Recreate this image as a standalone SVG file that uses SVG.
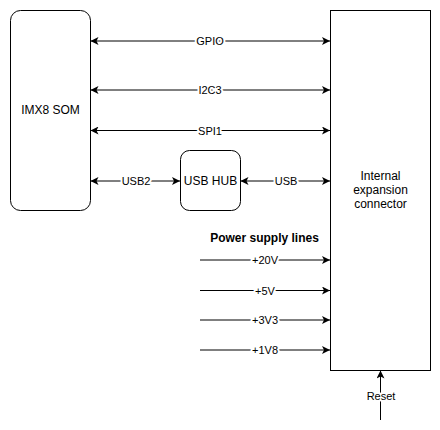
<svg xmlns="http://www.w3.org/2000/svg" width="440" height="430" viewBox="0 0 440 430">
<style>
.box{fill:#fff;stroke:#000;stroke-width:1}
.t{font-family:"Liberation Sans",Arial,sans-serif;font-size:12px;fill:#000;text-anchor:middle}
.e{fill:none;stroke:#000;stroke-width:1}
.lbl{font-family:"Liberation Sans",Arial,sans-serif;font-size:11px;fill:#000;text-anchor:middle;paint-order:stroke;stroke:#fff;stroke-width:4px;stroke-linejoin:round}
.b{font-weight:bold;font-size:12px}
</style>
<defs>
<marker id="arr" viewBox="0 0 8 8" markerWidth="8" markerHeight="8" refX="8" refY="4" orient="auto-start-reverse" markerUnits="userSpaceOnUse">
<path d="M0,0 L8,4 L0,8 L2,4 Z" fill="#000"/>
</marker>
</defs>
<rect width="440" height="430" fill="#fff"/>
<g id="connectors">
<line class="e" x1="90.5" y1="41" x2="330" y2="41" marker-start="url(#arr)" marker-end="url(#arr)"/>
<line class="e" x1="90.5" y1="90" x2="330" y2="90" marker-start="url(#arr)" marker-end="url(#arr)"/>
<line class="e" x1="90.5" y1="130.5" x2="330" y2="130.5" marker-start="url(#arr)" marker-end="url(#arr)"/>
<line class="e" x1="90.5" y1="181" x2="180" y2="181" marker-start="url(#arr)" marker-end="url(#arr)"/>
<line class="e" x1="240.5" y1="181" x2="330" y2="181" marker-start="url(#arr)" marker-end="url(#arr)"/>
<line class="e" x1="200" y1="260" x2="330" y2="260" marker-end="url(#arr)"/>
<line class="e" x1="200" y1="290.5" x2="330" y2="290.5" marker-end="url(#arr)"/>
<line class="e" x1="200" y1="320" x2="330" y2="320" marker-end="url(#arr)"/>
<line class="e" x1="200" y1="350" x2="330" y2="350" marker-end="url(#arr)"/>
<line class="e" x1="380.5" y1="420" x2="380.5" y2="370.5" marker-end="url(#arr)"/>
<text class="lbl" x="210" y="45">GPIO</text>
<text class="lbl" x="210" y="94">I2C3</text>
<text class="lbl" x="210" y="134.5">SPI1</text>
<text class="lbl" x="136" y="185">USB2</text>
<text class="lbl" x="286" y="185">USB</text>
<text class="lbl" x="265" y="264">+20V</text>
<text class="lbl" x="265" y="294.5">+5V</text>
<text class="lbl" x="265" y="324">+3V3</text>
<text class="lbl" x="265" y="354">+1V8</text>
<text class="lbl" x="381" y="399.5">Reset</text>
</g>
<g id="som">
<rect class="box" x="10.5" y="10.5" width="80" height="200" rx="10"/>
<text class="t" x="50.5" y="114">IMX8 SOM</text>
</g>
<g id="hub">
<rect class="box" x="180.5" y="150.5" width="60" height="60" rx="9"/>
<text class="t" x="210.5" y="185">USB HUB</text>
</g>
<g id="connector">
<rect class="box" x="330.5" y="10.5" width="100" height="360"/>
<text class="t" x="380.5" y="180">Internal</text>
<text class="t" x="380.5" y="194">expansion</text>
<text class="t" x="380.5" y="208">connector</text>
</g>
<g id="power-title">
<text class="t b" x="264.5" y="242">Power supply lines</text>
</g>
</svg>
